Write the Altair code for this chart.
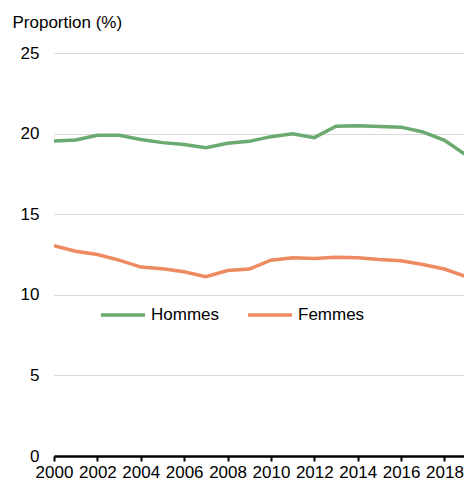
import altair as alt
import pandas as pd

years = list(range(2000, 2020))
hommes = [19.54, 19.6, 19.89, 19.9, 19.64, 19.44, 19.32, 19.13, 19.4, 19.52,
          19.81, 19.99, 19.75, 20.46, 20.48, 20.44, 20.4, 20.1, 19.58, 18.66]
femmes = [13.05, 12.7, 12.5, 12.15, 11.72, 11.62, 11.43, 11.13, 11.51, 11.6,
          12.15, 12.3, 12.25, 12.33, 12.3, 12.19, 12.11, 11.88, 11.6, 11.13]
series = ["Hommes", "Femmes"]
colors = ["#6aa96f", "#ee8a62"]
x_ticks = list(range(2000, 2019, 2))
y_ticks = [0, 5, 10, 15, 20, 25]

rows = []
for name, vals in zip(series, [hommes, femmes]):
    for y, v in zip(years, vals):
        rows.append({"Année": y, "Valeur": v, "Sexe": name})
df = pd.DataFrame(rows)

FONT = "Liberation Sans"

chart = alt.Chart(df).mark_line(strokeWidth=3.5, clip=True).encode(
    x=alt.X("Année:Q",
            scale=alt.Scale(domain=[2000, 2018.9], nice=False, zero=False),
            axis=alt.Axis(values=x_ticks, format="d", grid=False, title=None,
                          domainColor="black", domainWidth=2.5,
                          tickColor="black", tickWidth=2, tickSize=5,
                          labelFontSize=17, labelColor="black", labelFont=FONT,
                          labelPadding=3, labelFlush=False, labelOverlap=False)),
    y=alt.Y("Valeur:Q",
            scale=alt.Scale(domain=[0, 25], nice=False),
            axis=alt.Axis(values=y_ticks, grid=True, gridColor="#d9d9d9", gridWidth=1,
                          domain=False, ticks=False, labelPadding=15,
                          labelFontSize=17, labelColor="black", labelFont=FONT,
                          title="Proportion (%)", titleAngle=0, titleAlign="left",
                          titleBaseline="middle", titleX=-42, titleY=-31,
                          titleFontSize=17, titleFontWeight="normal",
                          titleColor="black", titleFont=FONT)),
    color=alt.Color("Sexe:N",
                    scale=alt.Scale(domain=series, range=colors),
                    sort=series,
                    legend=alt.Legend(orient="none", legendX=45, legendY=238,
                                      direction="horizontal", title=None,
                                      symbolType="stroke", symbolSize=1936,
                                      symbolStrokeWidth=3.5, labelFontSize=17,
                                      labelFont=FONT, labelColor="black",
                                      labelOffset=4, columnPadding=21)),
).properties(
    width=410, height=403,
    autosize=alt.AutoSizeParams(type="none"),
    padding={"left": 46, "top": 45, "right": 0, "bottom": 25},
).configure_view(stroke=None)

chart.save("out.html", embed_options={"renderer": "svg", "actions": False})
